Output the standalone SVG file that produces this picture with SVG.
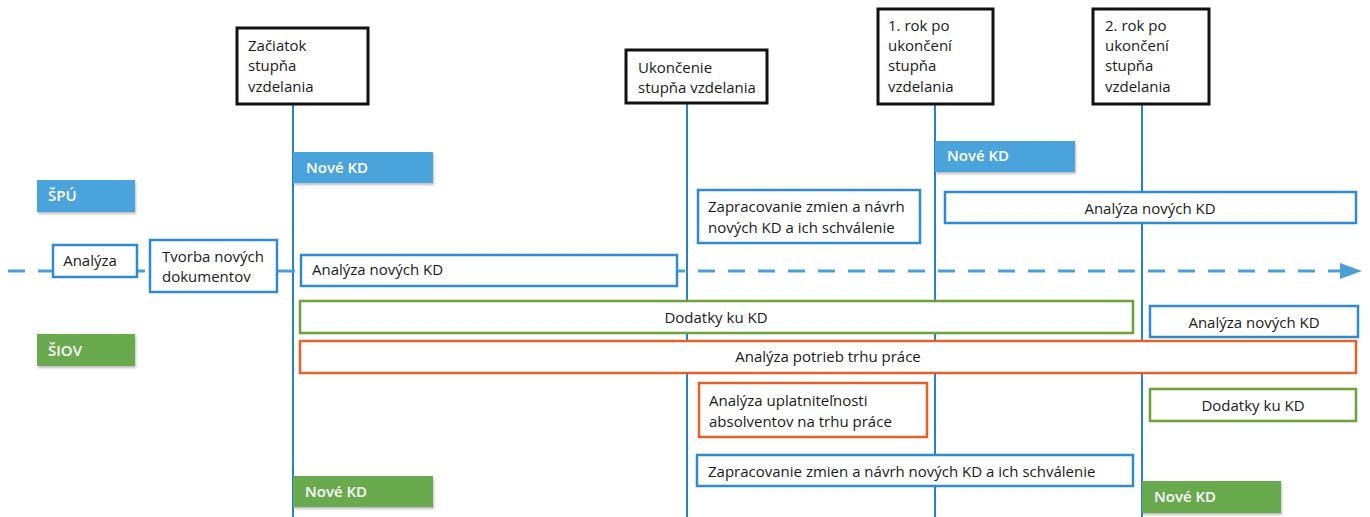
<svg xmlns="http://www.w3.org/2000/svg" width="1370" height="517" viewBox="0 0 1370 517">
<style>
  text { font-family: "Open Sans", "Noto Sans", "Liberation Sans", sans-serif; font-size: 15px; fill: #1a1a1a; }
  .hdr { fill: #ffffff; stroke: #111111; stroke-width: 3; }
  .bbox { fill: #ffffff; stroke: #2f8ad0; stroke-width: 2.5; }
  .gbox { fill: #ffffff; stroke: #6aa33a; stroke-width: 2.5; }
  .obox { fill: #ffffff; stroke: #e2622b; stroke-width: 2.5; }
  .bfill { fill: #4ca3dc; filter: url(#sh); }
  .gfill { fill: #6aaa4f; filter: url(#sh); }
  .wt { fill: #ffffff; font-weight: 600; }
  .c { text-anchor: middle; }
  .vline { stroke: #2a82c6; stroke-width: 2; fill: none; }
  .dash { stroke: #4a9fd8; stroke-width: 3; stroke-dasharray: 17 13; fill: none; }
</style>
<defs>
  <filter id="sh" x="-10%" y="-20%" width="130%" height="160%">
    <feDropShadow dx="1" dy="2" stdDeviation="1.2" flood-color="#000" flood-opacity="0.25"/>
  </filter>
</defs>

<g id="connectors">
  <line class="vline" x1="293" y1="104" x2="293" y2="517"/>
  <line class="vline" x1="687" y1="103" x2="687" y2="517"/>
  <line class="vline" x1="935" y1="105" x2="935" y2="517"/>
  <line class="vline" x1="1142" y1="105" x2="1142" y2="517"/>
  <path class="dash" d="M8,271 L1345,271"/>
  <path d="M1340,263 L1362,271 L1340,279 Z" fill="#4a9fd8"/>
</g>

<g id="hdr-zaciatok">
  <rect class="hdr" x="237" y="28" width="131" height="76"/>
  <text x="248" y="51">Začiatok</text>
  <text x="248" y="71">stupňa</text>
  <text x="248" y="92">vzdelania</text>
</g>
<g id="hdr-ukoncenie">
  <rect class="hdr" x="626" y="50" width="141" height="53"/>
  <text x="638" y="73">Ukončenie</text>
  <text x="638" y="93">stupňa vzdelania</text>
</g>
<g id="hdr-rok1">
  <rect class="hdr" x="878" y="9" width="115" height="95"/>
  <text x="888" y="31">1. rok po</text>
  <text x="888" y="51">ukončení</text>
  <text x="888" y="71">stupňa</text>
  <text x="888" y="92">vzdelania</text>
</g>
<g id="hdr-rok2">
  <rect class="hdr" x="1093" y="9" width="116" height="95"/>
  <text x="1105" y="31">2. rok po</text>
  <text x="1105" y="51">ukončení</text>
  <text x="1105" y="71">stupňa</text>
  <text x="1105" y="92">vzdelania</text>
</g>

<g id="spu">
  <rect class="bfill" x="37" y="180" width="98" height="32"/>
  <text class="wt" x="48" y="201">ŠPÚ</text>
</g>
<g id="siov">
  <rect class="gfill" x="37" y="334" width="98" height="32"/>
  <text class="wt" x="48" y="356">ŠIOV</text>
</g>

<g id="nove-kd-1">
  <rect class="bfill" x="293" y="152" width="140" height="31"/>
  <text class="wt" x="306" y="173">Nové KD</text>
</g>
<g id="nove-kd-2">
  <rect class="bfill" x="935" y="141" width="140" height="31"/>
  <text class="wt" x="947" y="161">Nové KD</text>
</g>
<g id="nove-kd-3">
  <rect class="gfill" x="293" y="476" width="140" height="31"/>
  <text class="wt" x="305" y="497">Nové KD</text>
</g>
<g id="nove-kd-4">
  <rect class="gfill" x="1142" y="481" width="139" height="32"/>
  <text class="wt" x="1154" y="502">Nové KD</text>
</g>

<g id="analyza">
  <rect class="bbox" x="53" y="245" width="84" height="32"/>
  <text class="c" x="90" y="266">Analýza</text>
</g>
<g id="tvorba">
  <rect class="bbox" x="150" y="240" width="127" height="52"/>
  <text x="162" y="262">Tvorba nových</text>
  <text x="162" y="282">dokumentov</text>
</g>
<g id="analyza-novych-1">
  <rect class="bbox" x="301" y="255" width="376" height="31"/>
  <text x="312" y="275">Analýza nových KD</text>
</g>
<g id="zapracovanie-1">
  <rect class="bbox" x="698" y="190" width="222" height="53"/>
  <text x="708" y="212">Zapracovanie zmien a návrh</text>
  <text x="708" y="233">nových KD a ich schválenie</text>
</g>
<g id="analyza-novych-2">
  <rect class="bbox" x="945" y="192" width="411" height="31"/>
  <text class="c" x="1150" y="214">Analýza nových KD</text>
</g>
<g id="dodatky-1">
  <rect class="gbox" x="300" y="301" width="833" height="32"/>
  <text class="c" x="716" y="323">Dodatky ku KD</text>
</g>
<g id="analyza-novych-3">
  <rect class="bbox" x="1150" y="306" width="208" height="31"/>
  <text class="c" x="1254" y="328">Analýza nových KD</text>
</g>
<g id="analyza-potrieb">
  <rect class="obox" x="300" y="341" width="1056" height="32"/>
  <text class="c" x="828" y="362">Analýza potrieb trhu práce</text>
</g>
<g id="uplatnitelnost">
  <rect class="obox" x="699" y="383" width="228" height="54"/>
  <text x="709" y="406">Analýza uplatniteľnosti</text>
  <text x="709" y="427">absolventov na trhu práce</text>
</g>
<g id="dodatky-2">
  <rect class="gbox" x="1150" y="389" width="206" height="32"/>
  <text class="c" x="1253" y="411">Dodatky ku KD</text>
</g>
<g id="zapracovanie-2">
  <rect class="bbox" x="697" y="455" width="436" height="31"/>
  <text x="708" y="477">Zapracovanie zmien a návrh nových KD a ich schválenie</text>
</g>
</svg>
